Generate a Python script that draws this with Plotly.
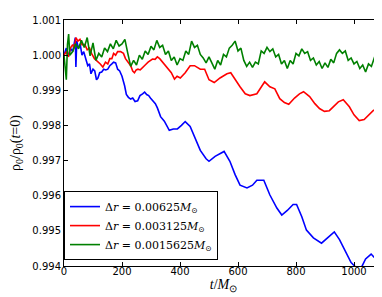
import plotly.graph_objects as go

# ---- data ----
t_blue = [0, 8, 15, 22, 30, 36, 39, 41, 44, 50, 56, 62, 68, 75, 82, 88, 93, 100, 106, 112,
          117, 123, 130, 137, 144, 151, 158, 165, 171, 178, 185, 192, 200, 209, 215, 222,
          230, 237, 245, 254, 262, 271, 278, 285, 292, 298, 306, 315, 322, 333, 346, 363,
          377, 391, 405, 418, 435, 450, 470, 490, 500, 521, 540, 552, 572, 590, 607, 631,
          650, 665, 689, 700, 710, 734, 751, 770, 790, 802, 820, 836, 860, 888, 910, 932,
          950, 974, 990, 1008, 1025, 1040, 1059, 1075, 1094, 1100]
rho_blue = [1.0000, 1.0002, 0.99995, 1.0002, 1.0001, 1.0004, 1.0005, 0.99966, 1.0004, 1.0002,
            1.0003, 1.0000, 1.0001, 0.9999, 0.9997, 0.99975, 0.99947, 0.9996, 0.99955,
            0.9993, 0.99935, 0.9995, 0.99952, 0.9996, 0.99958, 0.9996, 0.9997, 0.99975,
            0.9998, 0.99978, 0.9996, 0.99955, 0.9994, 0.99913, 0.99888, 0.9988, 0.99875,
            0.99878, 0.99868, 0.9987, 0.99885, 0.9989, 0.99895, 0.99888, 0.99885, 0.99878,
            0.9987, 0.99862, 0.9985, 0.99825, 0.99812, 0.99786, 0.9979, 0.9979, 0.9980,
            0.99811, 0.99797, 0.9977, 0.99729, 0.99705, 0.99698, 0.99712, 0.99722, 0.99726,
            0.99698, 0.9966, 0.9963, 0.99622, 0.9963, 0.99644, 0.99644, 0.9962, 0.99602,
            0.99565, 0.99545, 0.99558, 0.99575, 0.99575, 0.9954, 0.99502, 0.9948, 0.99465,
            0.9948, 0.99497, 0.99475, 0.99437, 0.9941, 0.99395, 0.99395, 0.9942, 0.99434,
            0.9942, 0.99395, 0.9939]

t_red = [0, 8, 15, 22, 30, 36, 41, 48, 55, 62, 72, 80, 88, 95, 105, 112, 117, 125, 134, 143,
         151, 158, 165, 171, 178, 185, 195, 205, 212, 219, 225, 230, 237, 243, 249, 255, 263,
         271, 280, 290, 298, 305, 314, 322, 330, 340, 348, 357, 364, 370, 381, 390, 401, 418,
         435, 450, 470, 485, 500, 518, 538, 562, 575, 586, 607, 625, 641, 665, 680, 692, 710,
         727, 744, 760, 775, 795, 812, 826, 847, 865, 881, 898, 915, 930, 946, 963, 984,
         1000, 1018, 1035, 1050, 1066, 1083, 1100]
rho_red = [1.0000, 1.0001, 0.99995, 1.0002, 1.0003, 1.0002, 1.0005, 1.0004, 1.00045, 1.0003,
           1.0003, 1.00015, 1.0002, 1.00005, 0.9999, 0.99985, 0.9998, 0.99975, 0.99966,
           0.9998, 0.99975, 0.9999, 0.9999, 1.00005, 1.0000, 1.0001, 1.0001, 1.00005, 0.9999,
           0.99983, 0.99975, 0.9997, 0.99955, 0.9995, 0.99958, 0.9996, 0.99958, 0.99966,
           0.99972, 0.9998, 0.99985, 0.99989, 0.99988, 0.99995, 0.9999, 0.9998, 0.99972,
           0.9996, 0.99955, 0.9995, 0.99932, 0.9994, 0.99935, 0.9995, 0.9997, 0.9997, 0.9996,
           0.9996, 0.9993, 0.99922, 0.99935, 0.99947, 0.9995, 0.99935, 0.9991, 0.9989,
           0.99885, 0.9989, 0.9991, 0.99924, 0.9991, 0.99904, 0.99876, 0.99865, 0.9986,
           0.99878, 0.9989, 0.99896, 0.99882, 0.99862, 0.99848, 0.9984, 0.99842, 0.99855,
           0.99867, 0.99873, 0.99853, 0.9983, 0.99814, 0.99817, 0.9983, 0.99842, 0.9985,
           0.9985]

t_green = [0, 4, 8, 12, 16, 20, 30, 40, 50, 60, 70, 80, 90, 100, 110, 120, 130, 140, 150,
           160, 170, 180, 190, 200, 210, 220, 230, 240, 250, 260, 270, 280, 290, 300, 310,
           320, 330, 340, 350, 360, 370, 380, 390, 400, 410, 420, 430, 440, 450, 460, 470,
           480, 490, 500, 510, 520, 530, 540, 550, 560, 570, 580, 590, 600, 610, 620, 630,
           640, 650, 660, 670, 680, 690, 700, 710, 720, 730, 740, 750, 760, 770, 780, 790,
           800, 810, 820, 830, 840, 850, 860, 870, 880, 890, 900, 910, 920, 930, 940, 950,
           960, 970, 980, 990, 1000, 1010, 1020, 1030, 1040, 1050, 1060, 1070, 1080, 1090,
           1100]
rho_green = [1.0000, 0.9997, 0.9993, 1.0003, 1.0006, 1.0000,
             1.0001, 1.00032, 1.00018, 1.00042, 1.00022, 1.0005, 0.99998, 1.00035, 0.99985,
             1.00005, 0.99995, 1.0002, 1.0001, 1.00032, 1.00018, 1.00042, 1.00026, 1.00032,
             1.00045, 1.00005, 0.99968, 0.99985, 0.99972, 1.0000, 0.99988, 1.00012, 1.00002,
             1.00025, 1.00015, 1.00042, 1.00022, 1.00028, 1.00002, 1.00012, 0.99985, 0.99995,
             0.99972, 0.9999, 0.99985, 1.00012, 1.00002, 1.0004, 1.00022, 1.00028, 1.00002,
             0.99992, 0.99978, 0.99995, 0.99975, 0.9996, 0.99985, 0.99972, 1.00002, 0.99995,
             1.0002, 1.00028, 1.0004, 1.00012, 1.0002, 0.99985, 0.99968, 0.9998, 0.99965,
             0.9998, 0.99975, 1.00012, 1.00005, 1.00022, 1.0001, 1.00018, 0.99995, 1.00002,
             0.99975, 0.99985, 0.99962, 0.99985, 0.99975, 1.00005, 0.99998, 1.00018, 1.00005,
             1.0001, 0.99985, 0.99992, 0.99972, 0.99982, 0.99962, 0.99978, 0.99965, 0.99988,
             0.99978, 1.00005, 1.00015, 1.00005, 1.00012, 0.99985, 0.99992, 0.99975, 0.99982,
             0.99962, 0.99972, 0.99952, 0.99975, 0.99968, 0.99992, 0.99985, 1.00008, 1.00012]

names = ["Δ<i>r</i> = 0.00625<i>M</i><sub>⊙</sub>",
         "Δ<i>r</i> = 0.003125<i>M</i><sub>⊙</sub>",
         "Δ<i>r</i> = 0.0015625<i>M</i><sub>⊙</sub>"]
colors = ["#0000ff", "#ff0000", "#008000"]

x_ticks = [0, 200, 400, 600, 800, 1000]
y_ticks = [0.994, 0.995, 0.996, 0.997, 0.998, 0.999, 1.000, 1.001]

fig = go.Figure()
for t, r, n, c in zip([t_blue, t_red, t_green], [rho_blue, rho_red, rho_green], names, colors):
    fig.add_trace(go.Scatter(x=t, y=r, mode="lines", name=n,
                             line=dict(color=c, width=1.6)))

axis_common = dict(showgrid=False, zeroline=False, showline=True, linecolor="black",
                   linewidth=1, mirror="allticks", ticks="inside", ticklen=4,
                   tickcolor="black", tickfont=dict(family="DejaVu Sans", size=10, color="black"))

fig.update_layout(
    width=382, height=297,
    margin=dict(l=56, r=6, t=10, b=39),
    paper_bgcolor="white", plot_bgcolor="white",
    showlegend=True,
    legend=dict(x=0.0, y=0.024, xanchor="left", yanchor="bottom",
                bordercolor="black", borderwidth=1, bgcolor="white",
                font=dict(family="DejaVu Serif", size=11, color="black"),
                tracegroupgap=0, itemwidth=30),
    xaxis=dict(range=[0, 1100], tickvals=x_ticks, ticklabelstandoff=-4,
               title=dict(text="<i>t</i>/<i>M</i><sub>⊙</sub>", standoff=0,
                          font=dict(family="Liberation Serif", size=14, color="black")),
               **axis_common),
    yaxis=dict(range=[0.994, 1.001], tickvals=y_ticks, tickformat=".3f",
               title=dict(text="ρ<sub>0</sub>/ρ<sub>0</sub>(<i>t</i>=0)", standoff=9,
                          font=dict(family="Liberation Serif", size=14, color="black")),
               **axis_common),
)

fig.write_html("out.html")
